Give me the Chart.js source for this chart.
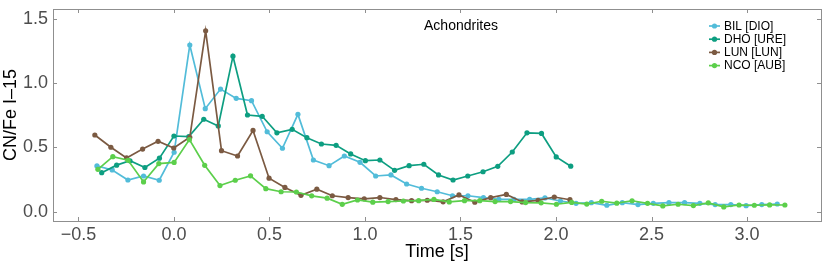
<!DOCTYPE html>
<html>
<head>
<meta charset="utf-8">
<script src="https://cdn.jsdelivr.net/npm/chart.js@4/dist/chart.umd.min.js"></script>
<style>
  html, body { margin: 0; padding: 0; background: #fff; }
  canvas { display: block; }
</style>
</head>
<body>
<canvas id="chart" width="830" height="266"></canvas>
<script>
// time [s] and CN/Fe I-15 ratio per meteor
const bilTime = [-0.403,-0.323,-0.241,-0.159,-0.077,0.001,0.083,0.164,0.244,0.326,0.406,0.488,0.568,0.649,0.730,0.812,0.892,0.974,1.056,1.136,1.218,1.296,1.378,1.458,1.539,1.620,1.701,1.780,1.862,1.942,2.023,2.105,2.185,2.266,2.347,2.429,2.509,2.591,2.673,2.753,2.833,2.915,2.995,3.077,3.158];
const bilVals = [0.357,0.326,0.248,0.279,0.246,0.463,1.295,0.801,0.953,0.881,0.863,0.622,0.494,0.757,0.403,0.359,0.434,0.385,0.279,0.287,0.217,0.184,0.157,0.126,0.126,0.111,0.098,0.097,0.098,0.109,0.085,0.067,0.072,0.052,0.072,0.057,0.067,0.072,0.072,0.067,0.057,0.057,0.049,0.057,0.062];

const dhoTime = [-0.378,-0.300,-0.230,-0.152,-0.076,0.000,0.078,0.156,0.232,0.309,0.385,0.462,0.539,0.619,0.696,0.772,0.849,0.925,1.002,1.078,1.155,1.231,1.308,1.385,1.461,1.538,1.618,1.695,1.771,1.848,1.924,2.001,2.077];
const dhoVals = [0.305,0.363,0.397,0.345,0.417,0.589,0.584,0.719,0.667,1.208,0.752,0.742,0.614,0.641,0.576,0.527,0.517,0.450,0.398,0.403,0.323,0.359,0.370,0.287,0.248,0.279,0.312,0.354,0.465,0.614,0.609,0.427,0.355];

const lunTime = [-0.414,-0.330,-0.248,-0.164,-0.083,-0.001,0.083,0.166,0.249,0.333,0.414,0.498,0.581,0.665,0.748,0.829,0.912,0.996,1.078,1.162,1.244,1.326,1.409,1.492,1.575,1.658,1.740,1.823,1.906,1.991,2.073];
const lunVals = [0.597,0.502,0.419,0.488,0.548,0.496,0.579,1.405,0.475,0.434,0.632,0.262,0.190,0.129,0.177,0.126,0.112,0.102,0.112,0.096,0.088,0.091,0.079,0.132,0.076,0.111,0.136,0.078,0.090,0.116,0.095];

const ncoTime = [-0.398,-0.320,-0.240,-0.159,-0.079,0.001,0.081,0.161,0.241,0.321,0.401,0.481,0.561,0.641,0.721,0.802,0.881,0.961,1.041,1.121,1.201,1.281,1.361,1.441,1.521,1.601,1.681,1.762,1.841,1.922,2.002,2.082,2.161,2.239,2.318,2.398,2.479,2.559,2.639,2.719,2.797,2.878,2.958,3.038,3.118,3.198];
const ncoVals = [0.331,0.429,0.401,0.233,0.375,0.384,0.561,0.362,0.205,0.246,0.280,0.181,0.157,0.155,0.125,0.107,0.059,0.093,0.076,0.081,0.085,0.088,0.097,0.078,0.088,0.088,0.081,0.081,0.073,0.071,0.060,0.074,0.061,0.083,0.068,0.087,0.067,0.047,0.060,0.050,0.071,0.039,0.054,0.052,0.055,0.054];

const seriesLabels = ["BIL [DIO]", "DHO [URE]", "LUN [LUN]", "NCO [AUB]"];
const xTicks = [-0.5, 0.0, 0.5, 1.0, 1.5, 2.0, 2.5, 3.0];
const yTicks = [0.0, 0.5, 1.0, 1.5];

const colors = ["#52bcd9", "#0d9e81", "#7b5a42", "#5ccf4b"];
const font = "'Liberation Sans', Arial, sans-serif";

function pairs(t, v) {
    return t.map((x, i) => ({ x: x, y: v[i] }));
}

function fmt(v) {
    return v.toFixed(1).replace("-", "\u2212");
}

const allSeries = [
    pairs(bilTime, bilVals),
    pairs(dhoTime, dhoVals),
    pairs(lunTime, lunVals),
    pairs(ncoTime, ncoVals),
];

const datasets = allSeries.map((d, i) => ({
    label: seriesLabels[i],
    data: d,
    showLine: true,
    borderColor: colors[i],
    backgroundColor: colors[i],
    borderWidth: 1.7,
    pointRadius: 2.6,
    pointBorderWidth: 0,
    order: 4 - i,
}));

// frame, inward ticks, title and legend drawn inside the plot like the original
const framePlugin = {
    id: "frame",
    afterDraw(chart) {
        const ctx = chart.ctx;
        const a = chart.chartArea;
        const xs = chart.scales.x, ys = chart.scales.y;
        ctx.save();
        ctx.strokeStyle = "#8f8f8f";
        ctx.lineWidth = 1;
        ctx.strokeRect(Math.round(a.left) + 0.5, Math.round(a.top) + 0.5,
            Math.round(a.right - a.left), Math.round(a.bottom - a.top));
        ctx.beginPath();
        xTicks.forEach((v) => {
            const px = Math.round(xs.getPixelForValue(v)) + 0.5;
            ctx.moveTo(px, a.top); ctx.lineTo(px, a.top + 4);
            ctx.moveTo(px, a.bottom); ctx.lineTo(px, a.bottom - 4);
        });
        yTicks.forEach((v) => {
            const py = Math.round(ys.getPixelForValue(v)) + 0.5;
            ctx.moveTo(a.left, py); ctx.lineTo(a.left + 4, py);
            ctx.moveTo(a.right, py); ctx.lineTo(a.right - 4, py);
        });
        ctx.stroke();

        ctx.fillStyle = "#000";
        ctx.font = "14px " + font;
        ctx.textAlign = "center";
        ctx.textBaseline = "middle";
        ctx.fillText("Achondrites", 461, 26);

        ctx.font = "12px " + font;
        ctx.textAlign = "left";
        chart.data.datasets.forEach((ds, i) => {
            const y = 26 + i * 13.2;
            ctx.strokeStyle = ds.borderColor;
            ctx.lineWidth = 1.7;
            ctx.beginPath();
            ctx.moveTo(709, y); ctx.lineTo(720, y);
            ctx.stroke();
            ctx.fillStyle = ds.borderColor;
            ctx.beginPath();
            ctx.arc(714.5, y, 2.6, 0, Math.PI * 2);
            ctx.fill();
            ctx.fillStyle = "#000";
            ctx.fillText(ds.label, 724, y + 0.5);
        });
        ctx.restore();
    },
};

const chart = new Chart(document.getElementById("chart"), {
    type: "scatter",
    data: { datasets: datasets },
    options: {
        responsive: false,
        animation: false,
        devicePixelRatio: 1,
        layout: { padding: { top: 9, right: 9, left: 0, bottom: 0 } },
        plugins: {
            legend: { display: false },
            tooltip: { enabled: false },
        },
        scales: {
            x: {
                type: "linear",
                min: -0.633,
                max: 3.387,
                afterBuildTicks: (axis) => { axis.ticks = xTicks.map((v) => ({ value: v })); },
                afterFit: (axis) => { axis.height = 45; axis.paddingLeft = 0; axis.paddingRight = 0; },
                grid: { display: false, drawTicks: false },
                border: { display: false },
                ticks: {
                    padding: 3,
                    color: "#4d4d4d",
                    font: { size: 18, family: font },
                    callback: (v) => fmt(v),
                },
                title: {
                    display: true,
                    text: "Time [s]",
                    color: "#000",
                    font: { size: 18, family: font },
                    padding: { top: 0, bottom: 3 },
                },
            },
            y: {
                type: "linear",
                min: -0.07,
                max: 1.574,
                afterBuildTicks: (axis) => { axis.ticks = yTicks.map((v) => ({ value: v })); },
                afterFit: (axis) => { axis.width = 53; axis.paddingTop = 0; axis.paddingBottom = 0; },
                grid: { display: false, drawTicks: false },
                border: { display: false },
                ticks: {
                    padding: 5,
                    color: "#4d4d4d",
                    font: { size: 18, family: font },
                    callback: (v) => fmt(v),
                },
                title: {
                    display: true,
                    text: "CN/Fe I\u201315",
                    color: "#000",
                    font: { size: 18, family: font, lineHeight: 1 },
                    padding: { top: 2, bottom: 0 },
                },
            },
        },
    },
    plugins: [framePlugin],
});
</script>
</body>
</html>
